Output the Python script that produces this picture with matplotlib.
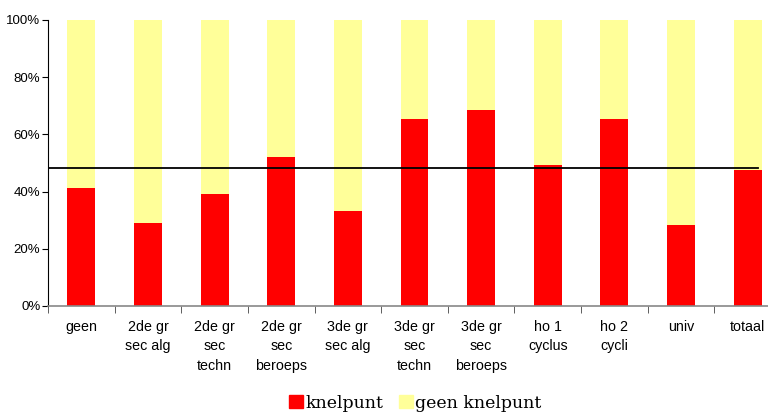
import numpy as np
import matplotlib
matplotlib.use("Agg")
import matplotlib.pyplot as plt
from matplotlib.patches import Patch

categories = ["geen", "2de gr\nsec alg", "2de gr\nsec\ntechn", "2de gr\nsec\nberoeps",
              "3de gr\nsec alg", "3de gr\nsec\ntechn", "3de gr\nsec\nberoeps",
              "ho 1\ncyclus", "ho 2\ncycli", "univ", "totaal"]
knelpunt = [41.3, 29.0, 39.2, 52.1, 33.2, 65.4, 68.5, 49.3, 65.4, 28.3, 47.6]
geen_knelpunt = [100 - v for v in knelpunt]
gemiddelde = 48.1
y_ticks = [0, 20, 40, 60, 80, 100]

RED = "#FF0000"
YELLOW = "#FFFF99"

W, H = 768, 412
fig = plt.figure(figsize=(W / 100, H / 100), dpi=100)
# axes deliberately runs past the right edge, like the original export
ax = fig.add_axes([48 / W, 1 - 306 / H, 733 / W, 286 / H])

x = np.arange(len(categories))
ax.bar(x, knelpunt, width=0.42, color=RED, label="knelpunt")
ax.bar(x, geen_knelpunt, width=0.42, bottom=knelpunt, color=YELLOW, label="geen knelpunt")
ax.plot([-0.5, 10.15], [gemiddelde, gemiddelde], color="black", lw=1.3)

ax.set_xlim(-0.5, len(categories) - 0.5)
ax.set_ylim(0, 100)

ax.set_yticks(y_ticks)
ax.set_yticklabels([f"{v}%" for v in y_ticks], fontsize=9.5, family="Liberation Sans")
ax.set_xticks(x)
ax.set_xticklabels(categories, fontsize=10.3, family="Liberation Sans", linespacing=1.5, va="top")
ax.set_xticks(np.arange(len(categories) + 1) - 0.5, minor=True)
ax.tick_params(axis="x", which="major", length=0, pad=10)
ax.tick_params(axis="x", which="minor", length=5, color="#444444", direction="out")
ax.tick_params(axis="y", length=4, direction="out", pad=1.5, color="black")

for s in ["top", "right"]:
    ax.spines[s].set_visible(False)
ax.spines["left"].set_color("black")
ax.spines["bottom"].set_color("#888888")
ax.spines["bottom"].set_linewidth(1.2)

handles = [Patch(color=RED, label="knelpunt"), Patch(color=YELLOW, label="geen knelpunt")]
fig.legend(handles=handles, loc="center", bbox_to_anchor=(415 / W, 1 - 403 / H), ncol=2,
           frameon=False, prop={"family": "DejaVu Serif", "size": 12.5},
           handlelength=0.8, handleheight=0.8, handletextpad=0.15, columnspacing=0.9)

fig.savefig("out.png", dpi=100)
